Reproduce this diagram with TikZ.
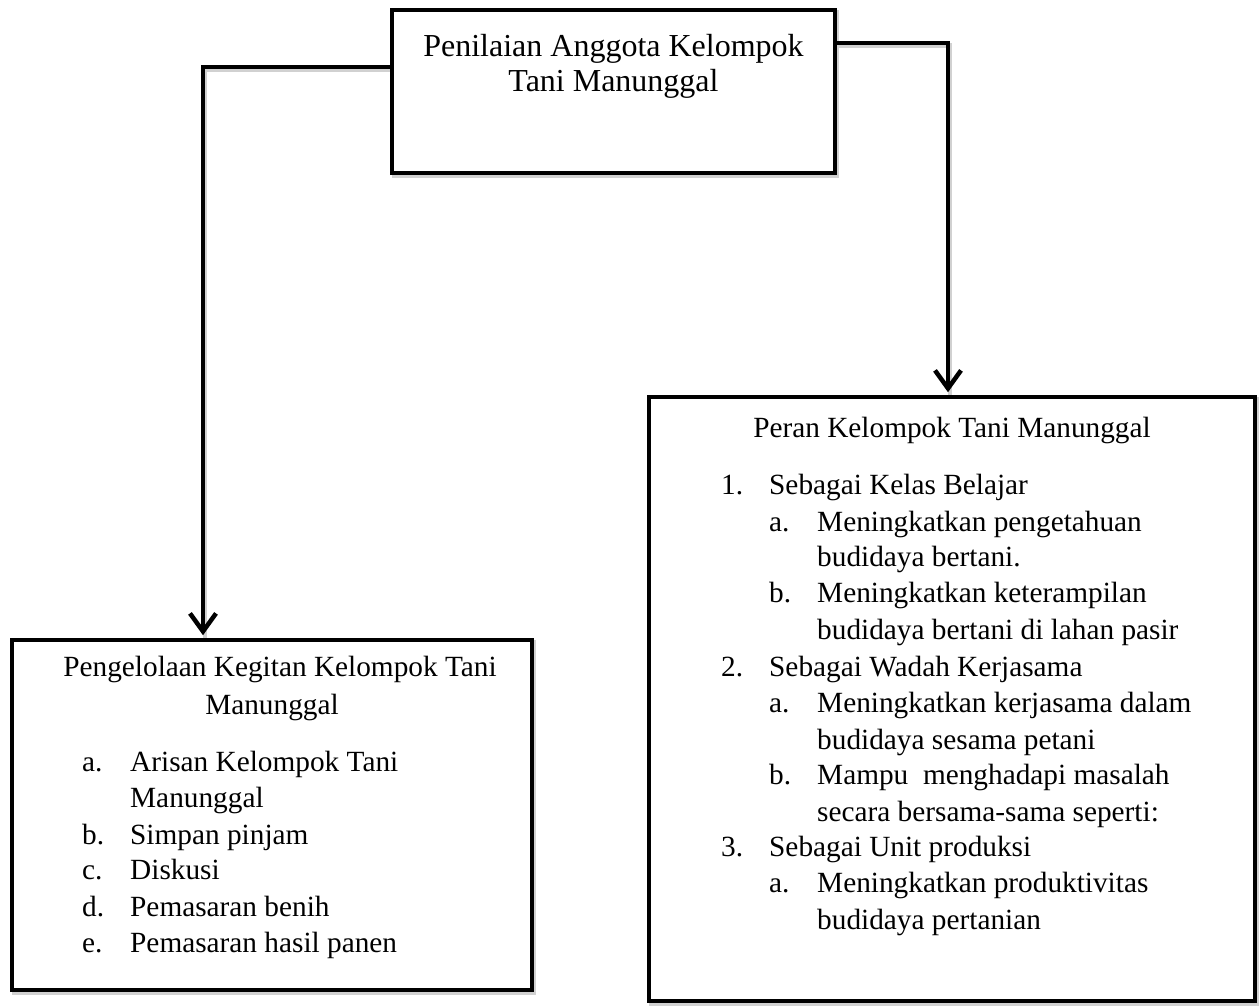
\documentclass[tikz,border=0pt]{standalone}
\usepackage{fontspec}
\setmainfont{Liberation Serif}
\usetikzlibrary{arrows.meta}
\begin{document}
\begin{tikzpicture}[x=1pt,y=1pt,
  box/.style={draw, line width=4.5pt, rectangle, inner sep=0pt},
  conn/.style={line width=4.5pt, -{Straight Barb[length=18pt,width=26pt]}, shorten >=2.5pt},
  shade/.style={draw=black!18, line width=4.5pt},
  txt/.style={anchor=base west, inner sep=0pt, font=\fontsize{29.3}{36}\selectfont},
  ctxt/.style={anchor=base, inner sep=0pt, font=\fontsize{29.3}{36}\selectfont},
  ttl/.style={anchor=base, inner sep=0pt, font=\fontsize{32}{36}\selectfont}]
\useasboundingbox (0,0) rectangle (1259,1006);
\fill[white] (0,0) rectangle (1259,1006);

% soft drop shadows
\begin{scope}[shift={(2,-2.5)}]
  \draw[shade] (392,996) rectangle (835,833);
  \draw[shade] (12,366) rectangle (532,16);
  \draw[shade] (649,609) rectangle (1255,5);
  \draw[shade] (392,939) -- (203,939) -- (203,368);
  \draw[shade] (835,963) -- (948,963) -- (948,612);
\end{scope}

% boxes
\node[box, fill=white, minimum width=443pt, minimum height=163pt] (top) at (613.5,914.5) {};
\node[box, fill=white, minimum width=520pt, minimum height=350pt] (left) at (272,191) {};
\node[box, fill=white, minimum width=606pt, minimum height=604pt] (right) at (952,307) {};

% connectors
\coordinate (lc) at (203,939);
\coordinate (rc) at (948,963);
\draw[conn] (top.west |- lc) -- (lc) -- (lc |- left.north);
\draw[conn] (top.east |- rc) -- (rc) -- (rc |- right.north);

% top box text
\node[ttl] (t1) at (613.5,949) {Penilaian Anggota Kelompok};
\node[ttl] (t2) at (613.5,914) {Tani Manunggal};

% left box text
\node[ctxt] (lh1) at (280,329) {Pengelolaan Kegitan Kelompok Tani};
\node[ctxt] (lh2) at (272,291) {Manunggal};
\node[txt] (la) at (82,234) {a.};
\node[txt] (lat) at (130,234) {Arisan Kelompok Tani};
\node[txt] (lat2) at (130,198) {Manunggal};
\node[txt] (lb) at (82,161) {b.};
\node[txt] (lbt) at (130,161) {Simpan pinjam};
\node[txt] (lc1) at (82,126) {c.};
\node[txt] (lct) at (130,126) {Diskusi};
\node[txt] (ld) at (82,89) {d.};
\node[txt] (ldt) at (130,89) {Pemasaran benih};
\node[txt] (le) at (82,53) {e.};
\node[txt] (let) at (130,53) {Pemasaran hasil panen};

% right box text
\node[ctxt] (rh) at (952,568) {Peran Kelompok Tani Manunggal};
\node[txt] (r1) at (721,511) {1.};
\node[txt] (r1t) at (769,511) {Sebagai Kelas Belajar};
\node[txt] (r1a) at (769,474) {a.};
\node[txt] (r1at) at (817,474) {Meningkatkan pengetahuan};
\node[txt] (r1at2) at (817,439) {budidaya bertani.};
\node[txt] (r1b) at (769,403) {b.};
\node[txt] (r1bt) at (817,403) {Meningkatkan keterampilan};
\node[txt] (r1bt2) at (817,366) {budidaya bertani di lahan pasir};
\node[txt] (r2) at (721,329) {2.};
\node[txt] (r2t) at (769,329) {Sebagai Wadah Kerjasama};
\node[txt] (r2a) at (769,293) {a.};
\node[txt] (r2at) at (817,293) {Meningkatkan kerjasama dalam};
\node[txt] (r2at2) at (817,256) {budidaya sesama petani};
\node[txt] (r2b) at (769,221) {b.};
\node[txt] (r2bt) at (817,221) {Mampu\ \ menghadapi masalah};
\node[txt] (r2bt2) at (817,184) {secara bersama-sama seperti:};
\node[txt] (r3) at (721,149) {3.};
\node[txt] (r3t) at (769,149) {Sebagai Unit produksi};
\node[txt] (r3a) at (769,113) {a.};
\node[txt] (r3at) at (817,113) {Meningkatkan produktivitas};
\node[txt] (r3at2) at (817,76) {budidaya pertanian};
\end{tikzpicture}
\end{document}
